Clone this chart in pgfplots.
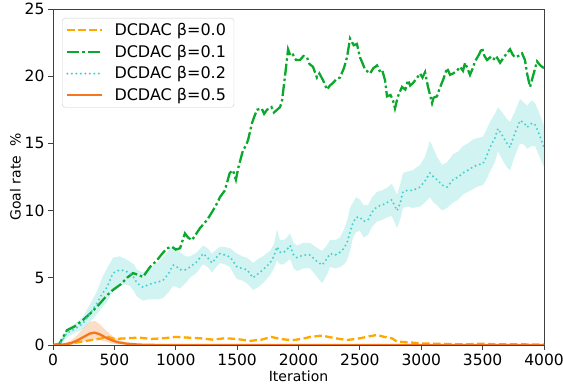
\documentclass[border=0pt]{standalone}
\usepackage{fontspec}
\setmainfont{DejaVu Sans}
\usepackage{pgfplots}
\pgfplotsset{compat=1.18}
\usepgfplotslibrary{fillbetween}
\usetikzlibrary{calc}
\definecolor{cA}{RGB}{255,168,0}
\definecolor{cB}{RGB}{10,168,45}
\definecolor{cC}{RGB}{72,209,204}
\definecolor{cD}{RGB}{245,118,28}
\pgfplotsset{longleg/.style={legend image code/.code={\draw[##1] (0pt,0pt) -- (35pt,0pt);}}}
\begin{document}
\begin{tikzpicture}
\begin{axis}[
  scale only axis, width=491pt, height=336pt,
  xmin=0, xmax=4000, ymin=0, ymax=25,
  xtick={0,500,...,4000}, ytick={0,5,...,25},
  scaled x ticks=false,
  /pgf/number format/assume math mode=true,
  /pgf/number format/1000 sep={},
  tick label style={font=\fontsize{15.5}{18}\selectfont},
  label style={font=\fontsize{14}{16}\selectfont},
  xlabel={Iteration}, ylabel={Goal rate\ \ \%},
  xlabel style={yshift=1pt}, ylabel style={yshift=-3pt},
  tick align=outside, tick pos=left, major tick length=5pt,
  tick style={black!75, line width=0.8pt},
  axis line style={black!75, line width=0.8pt},
  legend style={at={(rel axis cs:0,1)}, xshift=9pt, yshift=-9pt, anchor=north west, draw=black!20,
    rounded corners=3pt, fill=white, fill opacity=0.85, text opacity=1, draw opacity=1,
    font=\fontsize{16}{19}\selectfont, inner xsep=4pt, inner ysep=3pt,
    row sep=4pt, column sep=7pt, nodes={inner xsep=4pt, inner ysep=2pt}},
  legend cell align=left,
  line cap=butt,
]
% beta=0.2 band
\addplot[name path=hiC, draw=none, forget plot] coordinates {
(0,0) (60,0.3) (114,1.2) (180,1.6) (244,2.1) (300,3.0) (358,4.0) (400,5.0) (440,5.7) (489,6.5) (546,6.6) (590,6.4) (627,6.2) (660,6.0) (684,5.6) (733,5.4) (780,5.7) (815,5.9) (860,6.2) (896,6.5) (940,7.0) (978,7.4) (1010,7.2) (1035,6.9) (1080,6.6) (1116,6.6) (1173,6.9) (1222,7.4) (1260,7.2) (1295,6.8) (1330,7.1) (1360,7.3) (1400,7.3) (1442,7.2) (1470,7.0) (1499,6.8) (1540,6.6) (1580,6.5) (1630,6.1) (1670,6.4) (1711,6.6) (1768,7.0) (1800,7.5) (1825,8.6) (1849,7.8) (1880,7.8) (1906,8.0) (1931,8.3) (1960,7.6) (1988,7.4) (2040,7.6) (2094,7.6) (2140,7.3) (2192,7.0) (2230,7.4) (2257,7.8) (2300,7.8) (2338,8.0) (2370,8.6) (2395,9.2) (2420,10.2) (2444,10.6) (2470,11.0) (2501,10.8) (2530,10.4) (2566,10.4) (2600,11.0) (2640,11.4) (2680,11.5) (2721,11.7) (2760,12.0) (2803,11.2) (2830,12.0) (2851,12.8) (2884,12.9) (2930,13.0) (2990,13.4) (3030,14.0) (3071,15.2) (3100,14.6) (3128,14.0) (3170,13.4) (3210,13.6) (3259,14.2) (3300,14.4) (3340,14.8) (3380,15.0) (3422,15.3) (3460,15.4) (3503,15.5) (3530,16.0) (3560,16.6) (3600,17.2) (3625,17.7) (3660,17.3) (3699,16.8) (3723,16.6) (3760,17.3) (3805,18.3) (3840,18.0) (3862,17.8) (3900,18.2) (3927,18.0) (3960,17.3) (4000,16.3)};
\addplot[name path=loC, draw=none, forget plot] coordinates {
(0,0) (60,0.0) (114,0.6) (180,0.9) (244,1.2) (300,1.7) (358,2.3) (400,2.8) (440,3.2) (489,4.0) (546,4.4) (590,4.5) (627,4.4) (660,4.0) (684,3.6) (733,3.3) (780,3.4) (815,3.4) (860,3.4) (896,3.5) (940,3.9) (978,4.4) (1010,4.3) (1035,4.2) (1080,4.6) (1116,5.0) (1173,5.4) (1222,6.0) (1260,5.8) (1295,5.4) (1330,5.8) (1360,6.1) (1400,6.0) (1442,5.8) (1470,5.3) (1499,4.9) (1540,4.8) (1580,4.6) (1630,4.1) (1670,4.3) (1711,4.6) (1768,5.2) (1800,5.7) (1825,6.3) (1849,6.0) (1880,6.0) (1906,6.2) (1931,6.4) (1960,5.7) (1988,5.5) (2040,5.7) (2094,5.7) (2140,5.2) (2192,4.6) (2230,5.2) (2257,5.8) (2300,5.7) (2338,5.8) (2370,6.0) (2395,6.3) (2420,7.0) (2444,8.0) (2470,8.4) (2501,8.5) (2530,8.0) (2566,8.2) (2600,8.8) (2640,9.2) (2680,9.3) (2721,9.5) (2760,9.6) (2803,8.7) (2830,9.4) (2851,10.2) (2884,10.3) (2930,10.2) (2990,10.3) (3030,10.6) (3071,11.0) (3100,10.6) (3128,10.4) (3170,10.0) (3210,10.2) (3259,10.6) (3300,10.8) (3340,11.2) (3380,11.4) (3422,11.6) (3460,11.8) (3503,11.9) (3530,12.3) (3560,12.9) (3600,13.6) (3625,14.4) (3660,13.8) (3699,13.2) (3723,13.0) (3760,14.0) (3805,15.0) (3840,14.9) (3862,14.6) (3900,14.8) (3927,14.8) (3960,14.1) (4000,13.2)};
\addplot[cC, fill opacity=0.25, draw=none, forget plot] fill between[of=hiC and loC];
% beta=0.5 band
\addplot[name path=hiD, draw=none, forget plot] coordinates {
(0,0) (100,0.15) (150,0.35) (200,0.75) (250,1.3) (300,1.7) (340,1.8) (380,1.55) (430,1.1) (480,0.7) (530,0.4) (600,0.18) (700,0.06) (800,0.02) (900,0) (4000,0)};
\addplot[name path=loD, draw=none, forget plot] coordinates {
(0,0) (100,0) (150,0.02) (200,0.1) (250,0.25) (300,0.35) (340,0.4) (380,0.35) (430,0.25) (480,0.12) (530,0.05) (600,0.02) (700,0) (800,0) (900,0) (4000,0)};
\addplot[cD, fill opacity=0.25, draw=none, forget plot] fill between[of=hiD and loD];
% beta=0.0
\addplot[cA, line width=2.3pt, dash pattern=on 7.5pt off 3.5pt, longleg] coordinates {
(0,0) (100,0.05) (200,0.2) (300,0.35) (400,0.5) (450,0.6) (500,0.45) (600,0.5) (700,0.55) (800,0.45) (900,0.5) (1000,0.6) (1100,0.55) (1200,0.5) (1300,0.4) (1400,0.5) (1500,0.45) (1600,0.3) (1700,0.4) (1780,0.6) (1850,0.45) (1950,0.35) (2050,0.5) (2094,0.6) (2192,0.7) (2300,0.5) (2395,0.37) (2500,0.5) (2580,0.65) (2640,0.75) (2700,0.6) (2760,0.5) (2803,0.25) (2900,0.2) (3000,0.12) (3100,0.1) (3200,0.08) (3300,0.06) (3400,0.06) (3500,0.1) (3600,0.05) (3700,0.05) (3800,0.05) (3900,0.04) (4000,0.04)};
\addlegendentry{DCDAC β=0.0}
% beta=0.1
\addplot[cB, line width=2.3pt, dash pattern=on 12pt off 3pt on 2.5pt off 3pt, longleg] coordinates {
(0,0) (50,0.05) (114,1.1) (180,1.4) (244,1.86) (310,2.4) (383,3.1) (440,3.7) (489,4.1) (550,4.5) (603,5.0) (652,5.35) (700,5.2) (733,5.06) (790,5.8) (847,6.3) (890,6.8) (929,7.2) (970,7.3) (1000,7.1) (1035,7.2) (1075,8.3) (1100,8.0) (1132,7.8) (1198,8.7) (1255,9.3) (1303,10.0) (1340,10.6) (1360,11.0) (1400,11.5) (1440,12.8) (1466,13.0) (1490,12.3) (1510,13.2) (1548,14.5) (1570,14.8) (1589,15.25) (1621,16.5) (1640,17.0) (1662,17.5) (1700,17.6) (1720,17.2) (1743,17.5) (1780,17.7) (1800,17.3) (1825,17.5) (1850,17.7) (1866,18.2) (1890,20) (1915,22) (1935,21.5) (1955,21.6) (1980,21.2) (2012,21.2) (2040,21.5) (2069,21.4) (2090,20.9) (2118,20.7) (2150,19.9) (2170,20.2) (2200,19.7) (2232,19.0) (2255,19.3) (2281,19.5) (2310,19.8) (2338,19.9) (2370,20.6) (2395,21.4) (2420,22.8) (2450,22.3) (2476,22.4) (2501,21.4) (2520,21.0) (2542,20.5) (2583,20.2) (2610,20.6) (2640,20.8) (2660,20.4) (2680,20.5) (2705,19.7) (2721,18.5) (2750,18.6) (2770,18.2) (2786,17.6) (2810,18.5) (2843,19.2) (2870,19.0) (2892,19.7) (2910,19.3) (2933,19.5) (2960,19.8) (2990,20.2) (3010,19.9) (3031,20.3) (3055,19.2) (3088,18.0) (3100,18.4) (3128,18.5) (3150,19.1) (3177,19.7) (3210,20.6) (3235,20.1) (3259,20.2) (3290,20.4) (3316,20.7) (3340,20.4) (3357,21.0) (3380,20.5) (3397,20.1) (3420,20.6) (3438,21.1) (3470,21.6) (3495,22.1) (3515,21.5) (3536,21.2) (3560,21.4) (3585,21.2) (3610,21.5) (3642,21.0) (3680,21.5) (3723,22.0) (3745,21.6) (3764,21.4) (3790,21.5) (3821,21.7) (3845,21.2) (3862,20.2) (3886,19.2) (3910,20.0) (3943,21.1) (3970,20.8) (4000,20.6)};
\addlegendentry{DCDAC β=0.1}
% beta=0.2
\addplot[cC, line width=2.3pt, line cap=round, dash pattern=on 0pt off 4.5pt, longleg] coordinates {
(0,0) (60,0.1) (114,0.9) (180,1.2) (244,1.6) (300,2.3) (358,3.1) (400,3.8) (440,4.3) (489,5.35) (546,5.6) (590,5.5) (627,5.35) (660,5.0) (684,4.6) (733,4.3) (780,4.5) (815,4.6) (860,4.7) (896,4.8) (940,5.3) (978,5.95) (1010,5.8) (1035,5.6) (1080,5.6) (1116,5.8) (1173,6.2) (1222,6.8) (1260,6.5) (1295,6.1) (1330,6.5) (1360,6.8) (1400,6.7) (1442,6.55) (1470,6.2) (1499,5.8) (1540,5.7) (1580,5.6) (1630,5.0) (1670,5.3) (1711,5.6) (1768,6.1) (1800,6.6) (1825,7.3) (1849,6.9) (1880,6.9) (1906,7.1) (1931,7.4) (1960,6.7) (1988,6.5) (2040,6.7) (2094,6.7) (2140,6.3) (2192,5.95) (2230,6.4) (2257,6.8) (2300,6.7) (2338,6.9) (2370,7.2) (2395,7.6) (2420,8.4) (2444,9.1) (2470,9.5) (2501,9.5) (2530,9.2) (2566,9.3) (2600,9.9) (2640,10.3) (2680,10.4) (2721,10.6) (2760,10.8) (2803,10.0) (2830,10.6) (2851,11.4) (2884,11.5) (2930,11.5) (2990,11.75) (3030,12.2) (3071,12.8) (3100,12.5) (3128,12.3) (3170,11.9) (3210,11.75) (3259,12.3) (3300,12.5) (3340,12.8) (3380,13.0) (3422,13.25) (3460,13.4) (3503,13.5) (3530,14.0) (3560,14.7) (3600,15.4) (3625,16.1) (3660,15.6) (3699,15.0) (3723,14.7) (3760,15.7) (3805,16.7) (3840,16.5) (3862,16.2) (3900,16.5) (3927,16.4) (3960,15.7) (4000,14.7)};
\addlegendentry{DCDAC β=0.2}
% beta=0.5
\addplot[cD, line width=2.3pt, longleg] coordinates {
(0,0) (100,0.05) (150,0.15) (200,0.35) (250,0.6) (300,0.85) (340,0.92) (380,0.8) (430,0.55) (480,0.35) (530,0.2) (600,0.1) (700,0.03) (800,0.01) (900,0) (4000,0)};
\addlegendentry{DCDAC β=0.5}
\end{axis}
\pgfresetboundingbox
\path ($(current axis.south west)+(-53pt,-39pt)$) rectangle ($(current axis.north east)+(19pt,9pt)$);
\end{tikzpicture}
\end{document}
